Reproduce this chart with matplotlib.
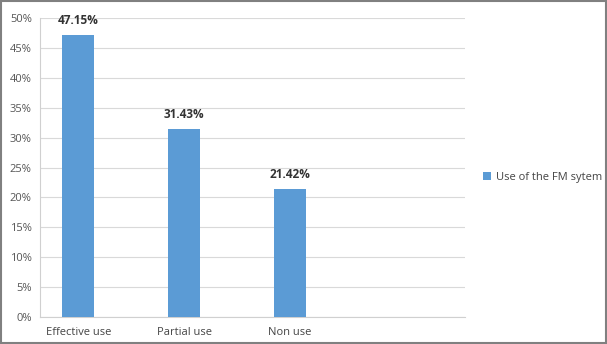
import matplotlib
matplotlib.use("Agg")
import matplotlib.pyplot as plt
from matplotlib.patches import Rectangle

categories = ["Effective use", "Partial use", "Non use"]
values = [47.15, 31.43, 21.42]
labels = ["47.15%", "31.43%", "21.42%"]
yticks = [0, 5, 10, 15, 20, 25, 30, 35, 40, 45, 50]
series_name = "Use of the FM sytem"

plt.rcParams['font.family'] = ['Open Sans', 'DejaVu Sans']

fig = plt.figure(figsize=(6.07, 3.44), dpi=100)
ax = fig.add_axes([0.066, 0.078, 0.70, 0.87])

x = list(range(len(categories)))
bars = ax.bar(x, values, width=0.30, color='#5B9BD5', label=series_name, zorder=3)

for xi, v, lab in zip(x, values, labels):
    ax.text(xi, v + 1.3, lab, ha='center', va='bottom', fontsize=8.5,
            fontweight='bold', color='#333333', clip_on=False)

ax.set_xlim(-0.36, 3.65)
ax.set_ylim(0, 50)
ax.set_yticks(yticks)
ax.set_yticklabels([f"{t}%" for t in yticks], fontsize=8, color='#555555')
ax.set_xticks(x)
ax.set_xticklabels(categories, fontsize=8, color='#444444')
ax.tick_params(axis='y', length=0, pad=6)
ax.tick_params(axis='x', length=0, pad=7)
ax.grid(axis='y', color='#d9d9d9', linewidth=0.8, zorder=0)
for s in ['top', 'right']:
    ax.spines[s].set_visible(False)
ax.spines['left'].set_color('#d0d0d0')
ax.spines['bottom'].set_color('#d0d0d0')

leg = ax.legend(loc='center left', bbox_to_anchor=(1.02, 0.467), frameon=False,
                fontsize=8, handlelength=0.7, handleheight=0.7, handletextpad=0.4)
for t in leg.get_texts():
    t.set_color('#444444')

fig.patches.append(Rectangle((0.002, 0.003), 0.996, 0.994, transform=fig.transFigure,
                             fill=False, edgecolor='#808080', linewidth=1.5))

fig.savefig("out.png", dpi=100)
